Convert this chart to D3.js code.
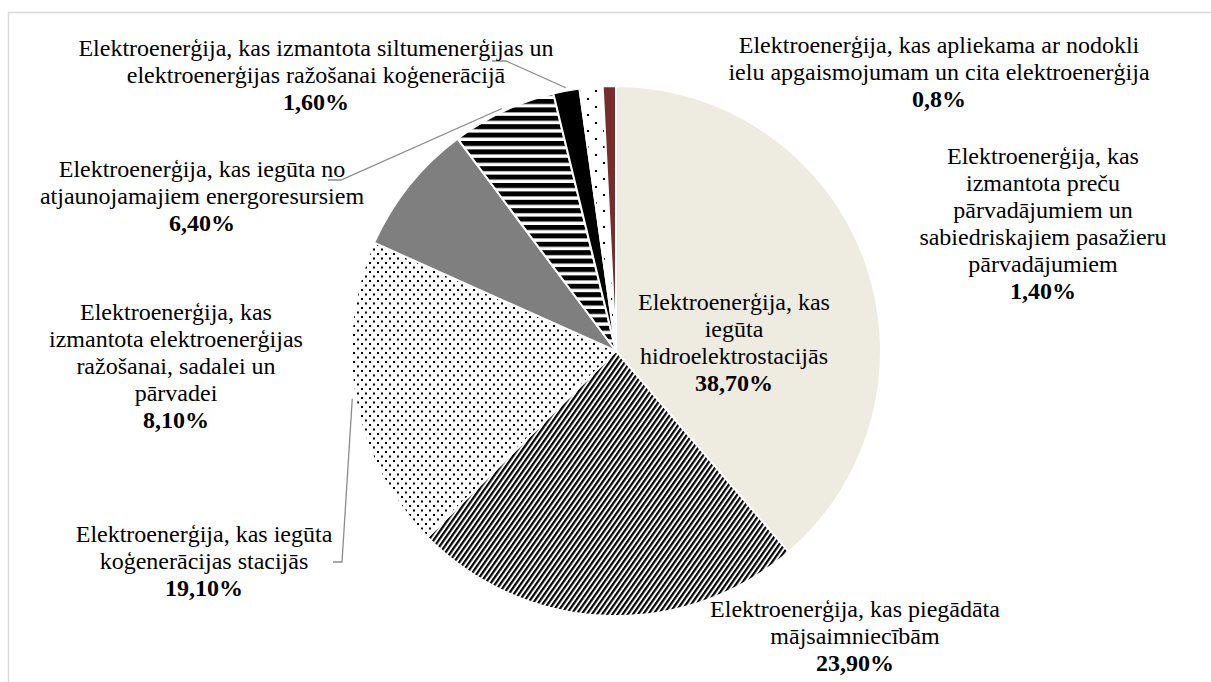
<!DOCTYPE html>
<html>
<head>
<meta charset="utf-8">
<script src="https://cdn.jsdelivr.net/npm/d3@7"></script>
<style>
body{margin:0;background:#fff;}
svg{display:block;}
</style>
</head>
<body>
<svg width="1211" height="682"></svg>
<script>
'use strict';

// slices clockwise from 12 o'clock
const categories = [
    "Elektroenerģija, kas|iegūta|hidroelektrostacijās",
    "Elektroenerģija, kas piegādāta|mājsaimniecībām",
    "Elektroenerģija, kas iegūta|koģenerācijas stacijās",
    "Elektroenerģija, kas|izmantota elektroenerģijas|ražošanai, sadalei un|pārvadei",
    "Elektroenerģija, kas iegūta no|atjaunojamajiem energoresursiem",
    "Elektroenerģija, kas izmantota siltumenerģijas un|elektroenerģijas ražošanai koģenerācijā",
    "Elektroenerģija, kas|izmantota preču|pārvadājumiem un|sabiedriskajiem pasažieru|pārvadājumiem",
    "Elektroenerģija, kas apliekama ar nodokli|ielu apgaismojumam un cita elektroenerģija"
];
const values = [38.7, 23.9, 19.1, 8.1, 6.4, 1.6, 1.4, 0.8];
const valueLabels = ["38,70%", "23,90%", "19,10%", "8,10%", "6,40%", "1,60%", "1,40%", "0,8%"];

// layout: label centre x / first baseline, and where leader lines leave the label
const labelPos = [[734, 310], [855, 617], [204, 542], [176, 320], [202, 177], [316, 56], [1043, 164], [939, 53]];
const leaderStart = [null, null, [[333, 562], [342, 562]], null, [[328, 180], [341, 180]], [[492, 61], [506, 61]], null, null];
const fills = ["#EEEBE0", "url(#diag)", "url(#dots)", "#7F7F7F", "url(#hstripe)", "#000000", "url(#sparse)", "#782D2D"];
const font = "'Liberation Serif', 'Times New Roman', Times, serif";

const svg = d3.select("svg");
const width = parseFloat(svg.attr("width"));
const height = parseFloat(svg.attr("height"));
const cx = 616;
const cy = 351;
const r = 265;
const lineH = 27;

svg.append("rect")
    .attr("x", 8.5)
    .attr("y", 12.5)
    .attr("width", width + 50)
    .attr("height", height + 50)
    .attr("fill", "none")
    .attr("stroke", "#D9D9D9")
    .attr("stroke-width", 1.5);

const defs = svg.append("defs");

// dense "/" stripes
const diag = defs.append("pattern")
    .attr("id", "diag")
    .attr("patternUnits", "userSpaceOnUse")
    .attr("width", 4)
    .attr("height", 4)
    .attr("patternTransform", "rotate(35) scale(1.05)");
diag.append("rect").attr("width", 4).attr("height", 4).attr("fill", "#fff");
diag.append("rect").attr("width", 2.1).attr("height", 4).attr("fill", "#000");

const dots = defs.append("pattern")
    .attr("id", "dots")
    .attr("patternUnits", "userSpaceOnUse")
    .attr("width", 8)
    .attr("height", 9);
dots.append("rect").attr("width", 8).attr("height", 9).attr("fill", "#fff");
dots.append("rect").attr("x", 1).attr("y", 1).attr("width", 2).attr("height", 2).attr("fill", "#000");
dots.append("rect").attr("x", 5).attr("y", 5.5).attr("width", 2).attr("height", 2).attr("fill", "#000");

const hstripe = defs.append("pattern")
    .attr("id", "hstripe")
    .attr("patternUnits", "userSpaceOnUse")
    .attr("width", 8)
    .attr("height", 8.4);
hstripe.append("rect").attr("width", 8).attr("height", 8.4).attr("fill", "#fff");
hstripe.append("rect").attr("width", 8).attr("height", 5).attr("fill", "#000");

const sparse = defs.append("pattern")
    .attr("id", "sparse")
    .attr("patternUnits", "userSpaceOnUse")
    .attr("width", 16)
    .attr("height", 16);
sparse.append("rect").attr("width", 16).attr("height", 16).attr("fill", "#fff");
sparse.append("rect").attr("x", 3).attr("y", 3).attr("width", 2).attr("height", 2).attr("fill", "#000");
sparse.append("rect").attr("x", 11).attr("y", 11).attr("width", 2).attr("height", 2).attr("fill", "#000");

const pie = d3.pie().sort(null).value(d => d);
const arcs = pie(values);
const arc = d3.arc().innerRadius(0).outerRadius(r);
const edgeArc = d3.arc().innerRadius(r + 3).outerRadius(r + 3);

const g = svg.append("g")
    .attr("transform", `translate(${cx},${cy})`);

g.selectAll("path.slice")
    .data(arcs)
    .join("path")
        .attr("class", "slice")
        .attr("d", arc)
        .attr("fill", (d, i) => fills[i])
        .attr("stroke", "#fff")
        .attr("stroke-width", 2)
        .attr("stroke-linejoin", "round");

// leader lines
const line = d3.line();
arcs.forEach((d, i) => {
    if (!leaderStart[i]) return;
    const c = edgeArc.centroid(d);
    const pts = leaderStart[i].concat([[cx + c[0], cy + c[1]]]);
    svg.append("path")
        .attr("d", line(pts))
        .attr("fill", "none")
        .attr("stroke", "#8C8C8C")
        .attr("stroke-width", 1.3);
});

// labels
const labels = svg.selectAll("text.lbl")
    .data(arcs)
    .join("text")
        .attr("class", "lbl")
        .attr("text-anchor", "middle")
        .attr("font-family", font)
        .attr("font-size", 24)
        .attr("fill", "#000")
        .attr("x", (d, i) => labelPos[i][0])
        .attr("y", (d, i) => labelPos[i][1]);

labels.each(function(d, i) {
    const t = d3.select(this);
    const lines = categories[i].split("|");
    lines.forEach((s, k) => {
        t.append("tspan")
            .attr("x", labelPos[i][0])
            .attr("y", labelPos[i][1] + k * lineH)
            .text(s);
    });
    t.append("tspan")
        .attr("x", labelPos[i][0])
        .attr("y", labelPos[i][1] + lines.length * lineH)
        .attr("font-weight", "bold")
        .text(valueLabels[i]);
});
</script>
</body>
</html>
